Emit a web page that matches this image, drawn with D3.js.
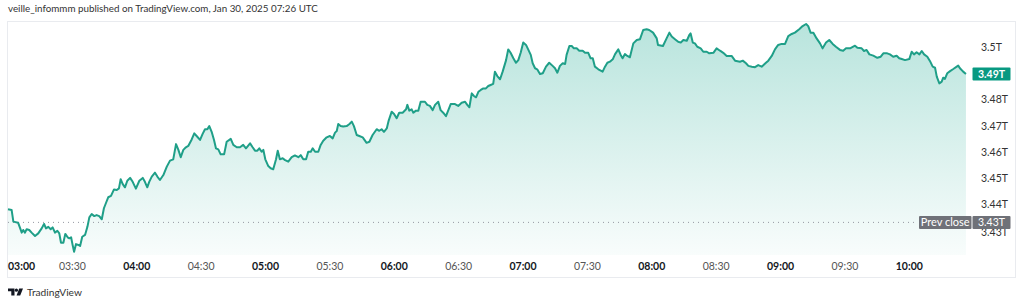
<!DOCTYPE html>
<html><head><meta charset="utf-8">
<script src="https://cdn.jsdelivr.net/npm/d3@7"></script>
<style>html,body{margin:0;padding:0;background:#fff;}svg{display:block;}</style>
</head><body>
<svg id="c" width="1024" height="306"></svg>
<script>
// minutes after 03:00 (chart time)
const minutes = [
0.0,1.7,2.5,4.7,5.6,6.4,7.1,7.9,8.7,9.9,
11.0,12.6,14.1,15.7,16.8,17.7,18.8,19.9,20.8,21.9,
23.0,23.9,24.7,25.8,26.7,27.8,28.6,29.4,30.1,30.8,
31.7,32.8,33.6,34.6,35.9,37.0,37.9,39.0,40.2,41.3,
42.5,43.7,44.7,45.7,46.7,48.0,49.4,50.7,51.7,52.5,
53.4,54.5,55.6,56.9,58.1,59.6,61.2,62.8,63.8,64.9,
65.8,67.0,68.5,69.6,70.8,72.4,74.0,75.5,77.0,78.3,
79.4,80.5,81.7,82.9,84.0,85.6,86.8,87.9,89.5,90.7,
91.8,92.9,93.8,94.9,96.0,96.9,98.0,99.1,100.7,101.9,
103.8,105.0,106.6,108.1,109.6,110.9,112.8,114.0,115.1,116.2,
117.1,118.2,119.0,119.9,121.3,122.4,123.6,124.9,125.7,126.7,
128.0,129.1,130.6,132.2,133.7,135.3,136.4,137.6,138.9,139.9,
141.1,142.0,143.1,144.6,145.7,146.9,148.5,150.0,151.3,152.4,
153.2,153.9,155.0,156.2,157.8,159.0,160.2,161.2,162.5,163.7,
165.3,167.1,168.4,169.9,171.8,173.0,174.1,175.2,176.5,177.4,
178.8,179.9,181.1,182.3,183.9,185.5,186.1,187.0,188.1,188.9,
190.1,191.2,192.3,194.3,195.4,196.6,197.9,199.0,200.5,201.6,
202.8,204.1,205.2,206.3,208.3,209.8,211.4,213.0,214.0,215.0,
216.1,217.1,218.1,219.2,220.3,221.5,222.7,223.8,224.9,226.1,
226.9,228.0,229.3,230.5,232.1,233.1,234.2,235.5,236.7,237.8,
238.9,240.1,241.4,242.5,243.6,244.5,245.6,246.6,247.9,249.2,
250.7,252.2,253.8,254.9,256.0,257.2,258.5,259.6,260.3,261.6,
262.7,263.7,265.0,266.2,267.8,268.9,270.4,271.5,272.5,273.5,
275.1,277.1,278.2,279.3,280.5,281.8,282.9,284.4,285.5,286.4,
287.5,288.6,289.8,291.4,293.0,294.5,296.0,297.6,298.8,300.6,
302.3,302.9,305.2,306.9,308.2,309.3,310.8,312.3,313.5,314.7,
316.3,317.5,318.1,319.1,320.1,321.2,322.8,324.0,325.6,326.8,
328.7,330.2,331.8,333.3,334.9,337.2,338.8,341.1,342.4,343.9,
345.0,346.6,348.1,349.6,351.2,353.2,354.3,355.9,357.4,358.9,
360.5,362.1,363.6,365.2,366.7,368.7,370.3,371.9,372.9,374.0,
375.3,376.8,378.4,379.6,381.2,382.7,384.3,385.8,387.7,389.2,
390.5,392.4,394.7,395.8,397.8,398.9,400.1,401.4,403.2,405.1,
406.7,407.9,409.7,411.0,412.5,414.1,415.3,416.5,418.0,420.0,
421.1,422.2,423.4,424.7,425.8,426.9,428.4,429.6,430.9,432.0,
432.8,434.0,435.1,435.8,436.6,437.7,439.0,440.5,442.1,442.8,
443.6,445.1,446.4
];
// market value, trillions
const values = [
3.4381,3.4378,3.4334,3.4330,3.4310,3.4292,3.4302,3.4292,3.4305,3.4302,
3.4292,3.4279,3.4289,3.4308,3.4325,3.4308,3.4314,3.4305,3.4312,3.4292,
3.4299,3.4289,3.4253,3.4253,3.4287,3.4274,3.4270,3.4274,3.4245,3.4219,
3.4248,3.4245,3.4241,3.4276,3.4283,3.4314,3.4350,3.4363,3.4355,3.4359,
3.4355,3.4343,3.4385,3.4406,3.4427,3.4432,3.4457,3.4455,3.4461,3.4496,
3.4478,3.4465,3.4490,3.4501,3.4486,3.4460,3.4490,3.4501,3.4486,3.4465,
3.4486,3.4506,3.4521,3.4506,3.4493,3.4512,3.4544,3.4567,3.4572,3.4630,
3.4608,3.4580,3.4608,3.4618,3.4623,3.4648,3.4671,3.4661,3.4646,3.4669,
3.4687,3.4687,3.4699,3.4677,3.4646,3.4614,3.4610,3.4591,3.4591,3.4639,
3.4650,3.4627,3.4618,3.4618,3.4627,3.4614,3.4633,3.4618,3.4605,3.4605,
3.4614,3.4601,3.4608,3.4572,3.4546,3.4538,3.4534,3.4572,3.4605,3.4572,
3.4576,3.4569,3.4563,3.4580,3.4587,3.4580,3.4588,3.4572,3.4572,3.4601,
3.4601,3.4614,3.4601,3.4601,3.4627,3.4643,3.4656,3.4661,3.4652,3.4674,
3.4680,3.4707,3.4699,3.4697,3.4699,3.4706,3.4716,3.4699,3.4665,3.4661,
3.4656,3.4635,3.4639,3.4665,3.4687,3.4681,3.4687,3.4677,3.4690,3.4720,
3.4754,3.4745,3.4729,3.4750,3.4750,3.4763,3.4780,3.4758,3.4763,3.4750,
3.4758,3.4758,3.4792,3.4792,3.4780,3.4776,3.4760,3.4780,3.4792,3.4760,
3.4750,3.4737,3.4760,3.4783,3.4783,3.4776,3.4788,3.4792,3.4780,3.4771,
3.4824,3.4814,3.4809,3.4830,3.4837,3.4843,3.4843,3.4852,3.4856,3.4860,
3.4907,3.4890,3.4878,3.4907,3.4951,3.4992,3.4979,3.4958,3.4941,3.4951,
3.4979,3.5018,3.5009,3.4990,3.4971,3.4939,3.4920,3.4916,3.4898,3.4901,
3.4926,3.4941,3.4929,3.4920,3.4903,3.4929,3.4939,3.4936,3.4971,3.5005,
3.5005,3.4996,3.4996,3.4987,3.4987,3.4979,3.4979,3.4958,3.4958,3.4926,
3.4916,3.4907,3.4926,3.4941,3.4945,3.4954,3.4974,3.4992,3.4971,3.4958,
3.4974,3.4967,3.4962,3.5015,3.5028,3.5031,3.5066,3.5069,3.5066,3.5056,
3.5034,3.5009,3.5005,3.5034,3.5056,3.5041,3.5031,3.5021,3.5018,3.5028,
3.5025,3.5047,3.5053,3.5018,3.5015,3.5002,3.4996,3.4983,3.4983,3.4977,
3.4979,3.4996,3.4987,3.4979,3.4967,3.4967,3.4949,3.4945,3.4949,3.4939,
3.4929,3.4926,3.4924,3.4932,3.4926,3.4941,3.4949,3.4967,3.4992,3.5009,
3.5013,3.5013,3.5043,3.5051,3.5056,3.5069,3.5081,3.5089,3.5081,3.5056,
3.5056,3.5034,3.5015,3.4996,3.5018,3.5028,3.5013,3.5002,3.4990,3.4987,
3.4996,3.4996,3.5006,3.4998,3.4996,3.4986,3.4990,3.4973,3.4968,3.4960,
3.4964,3.4977,3.4977,3.4973,3.4964,3.4968,3.4958,3.4955,3.4951,3.4955,
3.4983,3.4973,3.4981,3.4973,3.4986,3.4973,3.4964,3.4948,3.4926,3.4922,
3.4888,3.4862,3.4869,3.4884,3.4879,3.4901,3.4909,3.4917,3.4926,3.4930,
3.4920,3.4907,3.4898
];
const timeTicks = ["03:00","03:30","04:00","04:30","05:00","05:30","06:00","06:30","07:00","07:30","08:00","08:30","09:00","09:30","10:00"];
const priceTicks = [3.43,3.44,3.45,3.46,3.47,3.48,3.5];
const prevClose = 3.4331;
const headerText = "veille_infommm published on TradingView.com, Jan 30, 2025 07:26 UTC";
const brandText = "TradingView";

const FONT = "Lato, 'Open Sans', sans-serif";
const svg = d3.select("#c");
const parse = d3.timeParse("%H:%M");
const t0 = parse("03:00");
const data = minutes.map((m, i) => ({t: new Date(t0.getTime() + m * 60000), v: values[i]}));

const plot = {left: 8, right: 970, top: 22, bottom: 255};
const x = d3.scaleTime().domain([parse("03:00"), parse("10:00")]).range([8, 909.3]);
const y = d3.scaleLinear().domain([3.43, 3.5]).range([230.5, 47.3]);

function fitWidth(sel, target, base) {
  const w = sel.node().getComputedTextLength();
  if (w > 0) sel.attr("font-size", base * target / w);
}

// frame
svg.append("rect").attr("x", 7.5).attr("y", 21.5).attr("width", 1008).attr("height", 256)
  .attr("fill", "none").attr("stroke", "#e9ebef").attr("stroke-width", 1);

// header
const hdr = svg.append("text").attr("x", 8).attr("y", 12).attr("font-family", FONT).attr("font-size", 11)
  .attr("fill", "#333").text(headerText);
fitWidth(hdr, 310, 11);

// gradient
const defs = svg.append("defs");
const g = defs.append("linearGradient").attr("id", "fillg").attr("gradientUnits", "userSpaceOnUse")
  .attr("x1", 0).attr("x2", 0).attr("y1", y(d3.max(values))).attr("y2", plot.bottom);
g.append("stop").attr("offset", 0).attr("stop-color", "rgb(34,171,148)").attr("stop-opacity", 0.32);
g.append("stop").attr("offset", 1).attr("stop-color", "rgb(34,171,148)").attr("stop-opacity", 0.03);

svg.append("path").datum(data)
  .attr("d", d3.area().x(d => x(d.t)).y0(plot.bottom).y1(d => y(d.v)))
  .attr("fill", "url(#fillg)");

// prev close dotted line
svg.append("line").attr("x1", 8).attr("x2", 918).attr("y1", y(prevClose)).attr("y2", y(prevClose))
  .attr("stroke", "#9598a1").attr("stroke-width", 1).attr("stroke-dasharray", "1,4");

svg.append("path").datum(data)
  .attr("d", d3.line().x(d => x(d.t)).y(d => y(d.v)))
  .attr("fill", "none").attr("stroke", "#1f9f88").attr("stroke-width", 2)
  .attr("stroke-linejoin", "round");

// price labels
const fmtT = v => d3.format(".3~f")(v) + "T";
svg.append("g").selectAll("text").data(priceTicks).join("text")
  .attr("x", 981).attr("y", d => d === 3.43 ? y(d) + 2 : y(d)).attr("dy", "0.36em")
  .attr("font-family", FONT).attr("font-size", 10.5).attr("fill", "#333")
  .text(d => fmtT(d));

// time labels
svg.append("g").selectAll("text").data(timeTicks).join("text")
  .each(function(d) {
    const px = x(parse(d));
    const full = d.endsWith(":00");
    const s = d3.select(this)
      .attr("y", 270).attr("font-family", FONT).attr("font-size", 10.5)
      .attr("font-weight", full ? "bold" : "normal")
      .attr("fill", full ? "#131722" : "#555")
      .text(d);
    if (px - 14 < 8) s.attr("x", 8).attr("text-anchor", "start");
    else s.attr("x", px).attr("text-anchor", "middle");
  });

// last value badge
const last = values[values.length - 1];
svg.append("rect").attr("x", 972.5).attr("y", y(last) - 6.5).attr("width", 38).attr("height", 13)
  .attr("fill", "#089981").attr("rx", 1);
svg.append("text").attr("x", 991.5).attr("y", y(last)).attr("dy", "0.36em").attr("text-anchor", "middle")
  .attr("font-family", FONT).attr("font-size", 10.5).attr("font-weight", "bold").attr("fill", "#fff")
  .text(fmtT(d3.format(".2f")(last)));

// prev close badges
const py = y(prevClose);
svg.append("rect").attr("x", 919).attr("y", py - 6.5).attr("width", 52.5).attr("height", 13)
  .attr("fill", "#6f7178").attr("rx", 1);
svg.append("text").attr("x", 945.2).attr("y", py).attr("dy", "0.36em").attr("text-anchor", "middle")
  .attr("font-family", FONT).attr("font-size", 11).attr("fill", "#fff").text("Prev close");
svg.append("rect").attr("x", 972.5).attr("y", py - 6.5).attr("width", 38).attr("height", 13)
  .attr("fill", "#6f7178").attr("rx", 1);
svg.append("text").attr("x", 991.5).attr("y", py).attr("dy", "0.36em").attr("text-anchor", "middle")
  .attr("font-family", FONT).attr("font-size", 10.5).attr("fill", "#fff").text(fmtT(d3.format(".2f")(prevClose)));

// brand
const logo = svg.append("g").attr("fill", "#131722");
logo.append("path").attr("d", "M8,288.5 H14.5 V295.5 H11.3 V291.2 H8 Z");
logo.append("circle").attr("cx", 16.4).attr("cy", 290.2).attr("r", 1.6);
logo.append("path").attr("d", "M19.2,288.5 H23 L20.2,295.5 H16.6 Z");
const brand = svg.append("text").attr("x", 27).attr("y", 296).attr("font-family", FONT).attr("font-size", 11.5)
  .attr("fill", "#333").text(brandText);
fitWidth(brand, 55, 11.5);
</script>
</body></html>
